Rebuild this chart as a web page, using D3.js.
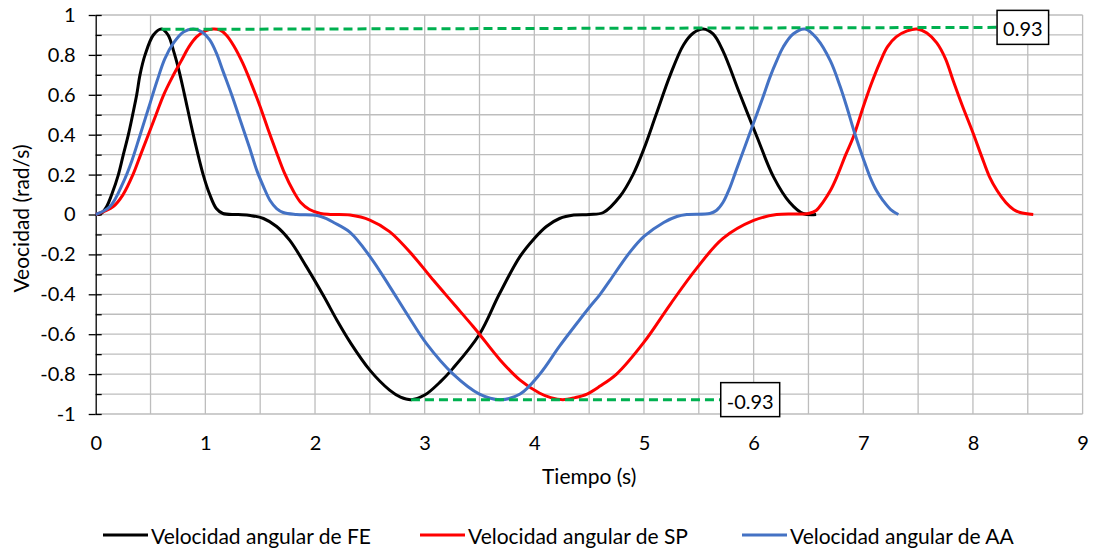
<!DOCTYPE html>
<html>
<head>
<meta charset="utf-8">
<script src="https://cdn.jsdelivr.net/npm/d3@7"></script>
<style>
  body { margin: 0; background: #fff; }
  svg text { font-family: Lato, "Open Sans", sans-serif; fill: #000; }
</style>
</head>
<body>
<svg id="chart"></svg>
<script>
// time (s) and angular velocity (rad/s)
const tFE = [0,0.05,0.1,0.146,0.207,0.252,0.298,0.337,0.374,0.404,0.45,0.526,0.6,0.66,0.71,0.76,0.81,0.89,0.98,1.04,1.1,1.16,1.3,1.41,1.53,1.65,1.77,1.92,2.08,2.2,2.32,2.5,2.68,2.78,2.875,3.0,3.14,3.26,3.5,3.68,3.87,4.0,4.11,4.23,4.36,4.5,4.63,4.78,4.9,5.0,5.11,5.24,5.36,5.45,5.54,5.63,5.72,5.87,6.03,6.18,6.33,6.45,6.57];
const vFE = [0,0.005,0.04,0.1,0.2,0.3,0.4,0.5,0.6,0.7,0.8,0.9,0.93,0.9,0.82,0.72,0.6,0.4,0.2,0.1,0.03,0.005,0,-0.005,-0.02,-0.06,-0.13,-0.26,-0.41,-0.53,-0.64,-0.78,-0.88,-0.915,-0.928,-0.905,-0.84,-0.77,-0.6,-0.4,-0.21,-0.12,-0.06,-0.02,-0.003,0,0.01,0.09,0.2,0.33,0.5,0.7,0.85,0.91,0.93,0.905,0.82,0.61,0.39,0.19,0.06,0.005,0];

const tSP = [0,0.16,0.25,0.34,0.41,0.48,0.55,0.62,0.7,0.78,0.85,0.92,1.0,1.07,1.13,1.19,1.26,1.34,1.42,1.5,1.57,1.65,1.72,1.8,1.87,1.95,2.05,2.14,2.32,2.5,2.68,2.9,3.08,3.26,3.44,3.5,3.69,3.87,4.05,4.15,4.26,4.37,4.48,4.6,4.75,5.0,5.24,5.48,5.72,6.0,6.21,6.5,6.57,6.63,6.7,6.76,6.84,6.91,7.0,7.07,7.15,7.22,7.3,7.4,7.49,7.58,7.67,7.75,7.82,7.9,8.0,8.08,8.15,8.22,8.3,8.37,8.43,8.55];
const vSP = [0,0.04,0.1,0.2,0.3,0.4,0.5,0.6,0.69,0.77,0.84,0.89,0.92,0.93,0.925,0.9,0.845,0.76,0.655,0.54,0.43,0.31,0.21,0.12,0.06,0.025,0.005,0,-0.003,-0.028,-0.086,-0.21,-0.33,-0.445,-0.56,-0.6,-0.73,-0.83,-0.896,-0.918,-0.928,-0.918,-0.9,-0.86,-0.8,-0.64,-0.45,-0.27,-0.12,-0.03,0,0.005,0.02,0.06,0.12,0.19,0.3,0.39,0.54,0.65,0.76,0.84,0.89,0.92,0.93,0.91,0.86,0.78,0.67,0.55,0.41,0.29,0.19,0.12,0.06,0.025,0.01,0];

const tAA = [0,0.13,0.25,0.33,0.4,0.48,0.56,0.63,0.71,0.8,0.89,0.97,1.04,1.1,1.16,1.24,1.32,1.4,1.47,1.53,1.59,1.65,1.71,1.83,2.02,2.1,2.17,2.32,2.5,2.68,2.84,3.02,3.26,3.5,3.69,3.87,4.05,4.23,4.41,4.51,4.6,4.69,4.87,5.0,5.18,5.3,5.39,5.6,5.66,5.72,5.78,5.84,5.92,6.0,6.08,6.15,6.21,6.27,6.36,6.47,6.58,6.7,6.79,6.86,6.92,7.0,7.06,7.12,7.18,7.25,7.32];
const vAA = [0,0.04,0.16,0.27,0.39,0.53,0.67,0.78,0.86,0.915,0.93,0.915,0.875,0.81,0.72,0.6,0.47,0.34,0.22,0.14,0.07,0.03,0.01,0,-0.005,-0.02,-0.04,-0.09,-0.21,-0.36,-0.5,-0.65,-0.8,-0.9,-0.928,-0.9,-0.8,-0.66,-0.53,-0.46,-0.4,-0.33,-0.19,-0.11,-0.04,-0.01,0,0.005,0.02,0.06,0.13,0.22,0.34,0.46,0.58,0.69,0.77,0.84,0.905,0.93,0.88,0.77,0.64,0.52,0.41,0.28,0.19,0.12,0.07,0.025,0];

const seriesNames = ["Velocidad angular de FE", "Velocidad angular de SP", "Velocidad angular de AA"];
const seriesColors = ["#000000", "#ff0000", "#4472c4"];

// green guide lines and their labels
const peakLineT = [0.6, 8.22];
const peakLineV = [0.928, 0.938];
const valleyLineT = [2.875, 5.70];
const valleyLineV = [-0.928, -0.928];
const peakLabel = "0.93";
const valleyLabel = "-0.93";

const xTicks = [0,1,2,3,4,5,6,7,8,9];
const xGrid = d3.range(1, 19).map(i => i / 2);
const yTicks = [-1,-0.8,-0.6,-0.4,-0.2,0,0.2,0.4,0.6,0.8,1];
const yGrid = d3.range(-10, 11).map(i => i / 10);

const w = 1094, h = 552;
const margin = { top: 15, right: 11.4, bottom: 138, left: 95.7 };

const svg = d3.select("#chart").attr("width", w).attr("height", h);

const x = d3.scaleLinear().domain([0, 9]).range([margin.left, w - margin.right]);
const y = d3.scaleLinear().domain([-1, 1]).range([h - margin.bottom, margin.top]);

const fmt = d => String(+d.toFixed(1));

// gridlines
const grid = svg.append("g").attr("stroke", "#bdbdbd").attr("stroke-width", 1.3);
grid.selectAll(".hg").data(yGrid).join("line")
    .attr("x1", x(0)).attr("x2", x(9))
    .attr("y1", d => y(d)).attr("y2", d => y(d));
grid.selectAll(".vg").data(xGrid).join("line")
    .attr("x1", d => x(d)).attr("x2", d => x(d))
    .attr("y1", y(-1)).attr("y2", y(1));

// y axis
svg.append("g")
    .attr("transform", `translate(${x(0)},0)`)
    .call(d3.axisLeft(y).tickValues(yTicks).tickFormat(fmt).tickSize(7).tickSizeOuter(0).tickPadding(13))
    .call(g => g.selectAll("text").style("font-size", "20px"))
    .call(g => g.selectAll("line,path").attr("stroke", "#000").attr("stroke-width", 1.3));
svg.append("g")
    .attr("transform", `translate(${x(0)},0)`)
    .call(d3.axisRight(y).tickValues(yGrid).tickFormat("").tickSize(6).tickSizeOuter(0))
    .call(g => g.select(".domain").remove())
    .call(g => g.selectAll("line").attr("stroke", "#000").attr("stroke-width", 1.3));

// x axis labels
svg.append("g")
    .attr("transform", `translate(0,${y(-1)})`)
    .call(d3.axisBottom(x).tickValues(xTicks).tickFormat(d3.format("d")).tickSize(0).tickPadding(22))
    .call(g => g.select(".domain").remove())
    .call(g => g.selectAll("text").style("font-size", "20px"));

// axis titles
svg.append("text")
    .attr("x", (x(0) + x(9)) / 2).attr("y", 484)
    .attr("text-anchor", "middle").style("font-size", "21px")
    .text("Tiempo (s)");
svg.append("text")
    .attr("transform", `translate(29,${(y(1) + y(-1)) / 2 + 4}) rotate(-90)`)
    .attr("text-anchor", "middle").style("font-size", "21px")
    .text("Veocidad (rad/s)");

// series
const line = d3.line().x(d => x(d[0])).y(d => y(d[1])).curve(d3.curveCatmullRom.alpha(0.5));
const series = [d3.zip(tFE, vFE), d3.zip(tSP, vSP), d3.zip(tAA, vAA)];
svg.append("g").selectAll("path").data(series).join("path")
    .attr("fill", "none")
    .attr("stroke", (d, i) => seriesColors[i])
    .attr("stroke-width", 3)
    .attr("stroke-linejoin", "round")
    .attr("d", line);

// green dashed guides
const guides = [d3.zip(peakLineT, peakLineV), d3.zip(valleyLineT, valleyLineV)];
svg.append("g").selectAll("path").data(guides).join("path")
    .attr("fill", "none")
    .attr("stroke", "#00b050")
    .attr("stroke-width", 3)
    .attr("stroke-dasharray", "9,5")
    .attr("d", d3.line().x(d => x(d[0])).y(d => y(d[1])));

// value boxes
const labels = [
    { t: peakLineT[1], v: peakLineV[1], text: peakLabel },
    { t: valleyLineT[1], v: valleyLineV[1], text: valleyLabel }
];
const lab = svg.append("g").selectAll("g").data(labels).join("g")
    .attr("transform", d => `translate(${x(d.t)},${y(d.v)})`);
const labText = lab.append("text")
    .attr("dominant-baseline", "central")
    .attr("x", 6).attr("y", 1)
    .style("font-size", "20px")
    .text(d => d.text);
lab.insert("rect", "text")
    .attr("x", 0).attr("y", -17)
    .attr("height", 34)
    .attr("width", function (d, i) { return labText.nodes()[i].getComputedTextLength() + 12; })
    .attr("fill", "#fff").attr("stroke", "#000").attr("stroke-width", 1.5);

// legend
const legendX = [103, 420, 742];
const legendY = 535;
const leg = svg.append("g").selectAll("g").data(seriesNames).join("g")
    .attr("transform", (d, i) => `translate(${legendX[i]},${legendY})`);
leg.append("line")
    .attr("x1", 0).attr("x2", 45)
    .attr("stroke", (d, i) => seriesColors[i]).attr("stroke-width", 3);
leg.append("text")
    .attr("x", 48).attr("dominant-baseline", "central")
    .style("font-size", "21px")
    .text(d => d);
</script>
</body>
</html>
